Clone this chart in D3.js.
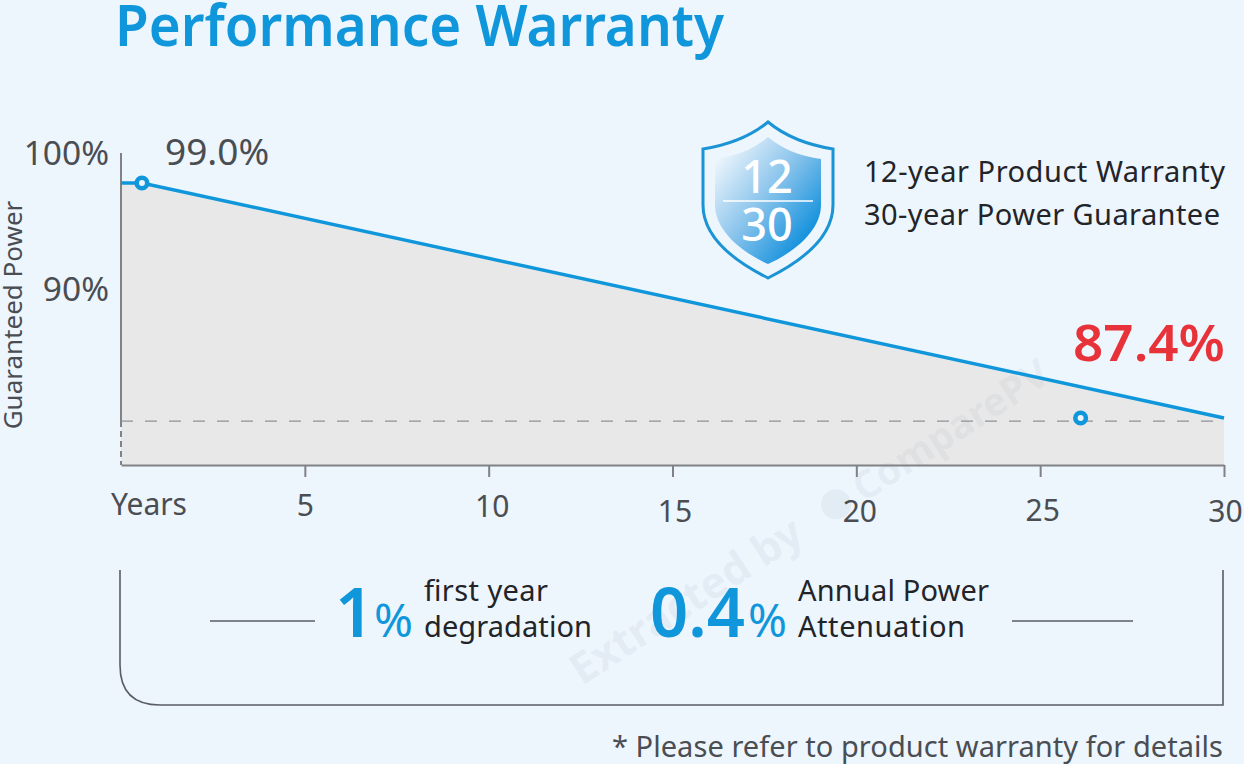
<!DOCTYPE html>
<head>
  <meta charset="utf-8">
  <script src="https://d3js.org/d3.v7.min.js"></script>
  <style>
    body { margin:0; background:#edf5fd; overflow:hidden; }
    svg { display:block; }
    text { font-family:"Noto Sans", sans-serif; }
    .axis path, .axis line { stroke:#808285; stroke-width:2; fill:none; }
    .axis text { font-family:"Noto Sans", sans-serif; font-size:30px; fill:#4a4d52; }
  </style>
</head>

<body>
  <script>
    // values
    var lineYears = [0, 0.57, 30];
    var linePower = [99, 99, 87.4];
    var markerYears = [0.57, 26.1];
    var markerPower = [99, 87.4];
    var floorPower = 85.08;
    var refPower = 87.25;
    var yearTicks = [5, 10, 15, 20, 25, 30];
    var powerLabels = ["100%", "90%"];
    var powerLabelValues = [100, 90];

    var w = 1244;
    var h = 764;
    var blue = "#0f96db";
    var greyText = "#4a4d52";
    var darkText = "#222428";

    var lineData = lineYears.map(function(d, i) { return [d, linePower[i]]; });
    var markers = markerYears.map(function(d, i) { return [d, markerPower[i]]; });

    var x = d3.scaleLinear().domain([0, 30]).range([121, 1224]);
    // the original is schematic: the line and the printed percent labels do not share one scale
    var y = d3.scaleLinear().domain([99, 87.4]).range([183, 418]);
    var yLabel = d3.scaleLinear().domain([100, 90]).range([153, 289]);

    var svg = d3.select("body").append("svg").attr("width", w).attr("height", h);
    var defs = svg.append("defs");
    var grad = defs.append("linearGradient").attr("id", "shieldFill")
      .attr("x1", "0.05").attr("y1", "0.1").attr("x2", "0.85").attr("y2", "0.85");
    grad.append("stop").attr("offset", "0").attr("stop-color", "#f2f8fd");
    grad.append("stop").attr("offset", "0.5").attr("stop-color", "#8cc5ec");
    grad.append("stop").attr("offset", "1").attr("stop-color", "#0f8fdc");

    // title
    svg.append("text").attr("x", 115).attr("y", 46)
      .attr("font-size", 57).attr("font-weight", 600).attr("fill", blue)
      .attr("textLength", 609).attr("lengthAdjust", "spacingAndGlyphs")
      .text("Performance Warranty");

    // grey area under the line
    var area = d3.area()
      .x(function(d) { return x(d[0]); })
      .y0(y(floorPower))
      .y1(function(d) { return y(d[1]); });
    svg.append("path").datum(lineData).attr("d", area).attr("fill", "#e8e8e9");

    // faint source stamp across the chart
    var stamp = svg.append("g").attr("transform", "translate(582,686) rotate(-33)")
      .attr("fill", "#8a9aa8").attr("fill-opacity", 0.1);
    stamp.append("text").attr("font-size", 43).attr("font-weight", 700).text("Extracted by");
    stamp.append("circle").attr("cx", 312).attr("cy", -14).attr("r", 15);
    stamp.append("text").attr("x", 336).attr("font-size", 39).attr("font-weight", 700).text("ComparePV");

    // y axis: solid from the top, dashed under the reference line
    svg.append("line").attr("x1", 121).attr("x2", 121).attr("y1", 153).attr("y2", y(refPower))
      .attr("stroke", "#808285").attr("stroke-width", 2);
    svg.append("line").attr("x1", 121).attr("x2", 121).attr("y1", y(refPower)).attr("y2", y(floorPower))
      .attr("stroke", "#808285").attr("stroke-width", 2).attr("stroke-dasharray", "6 4");

    // dashed reference
    svg.append("line").attr("x1", x(0)).attr("x2", x(30)).attr("y1", y(refPower)).attr("y2", y(refPower))
      .attr("stroke", "#8f9194").attr("stroke-width", 1.2).attr("stroke-dasharray", "12 12");

    // x axis
    var xAxis = d3.axisBottom(x).tickValues(yearTicks).tickSize(12).tickSizeOuter(0).tickPadding(14);
    var xg = svg.append("g").attr("class", "axis")
      .attr("transform", "translate(0," + y(floorPower) + ")")
      .call(xAxis);
    var labelNudge = [[0, 4], [3, 5], [2, 10], [3, 10], [2, 9], [1, 10]];
    xg.selectAll(".tick text").attr("transform", function(d, i) {
      return "translate(" + labelNudge[i][0] + "," + labelNudge[i][1] + ")";
    });
    svg.append("text").attr("x", 149).attr("y", 515).attr("text-anchor", "middle")
      .attr("font-size", 30).attr("fill", greyText).text("Years");

    // y labels
    svg.selectAll(".plabel").data(powerLabels).enter().append("text")
      .attr("class", "plabel")
      .attr("x", 109).attr("text-anchor", "end")
      .attr("y", function(d, i) { return yLabel(powerLabelValues[i]) + 12; })
      .attr("font-size", 33.5).attr("fill", greyText)
      .text(function(d) { return d; });
    svg.append("text").attr("transform", "translate(22,315) rotate(-90)")
      .attr("text-anchor", "middle").attr("font-size", 26).attr("fill", greyText)
      .text("Guaranteed Power");

    // line and markers
    var line = d3.line()
      .x(function(d) { return x(d[0]); })
      .y(function(d) { return y(d[1]); });
    svg.append("path").datum(lineData).attr("d", line)
      .attr("fill", "none").attr("stroke", blue).attr("stroke-width", 3.4);
    svg.selectAll(".marker").data(markers).enter().append("circle")
      .attr("class", "marker")
      .attr("cx", function(d) { return x(d[0]); })
      .attr("cy", function(d) { return y(d[1]); })
      .attr("r", 5.3)
      .attr("fill", "#edf5fd").attr("stroke", blue).attr("stroke-width", 4.6);

    // value labels
    svg.append("text").attr("x", 165).attr("y", 165)
      .attr("font-size", 37).attr("fill", greyText).text("99.0%");
    svg.append("text").attr("x", 1225).attr("y", 361).attr("text-anchor", "end")
      .attr("font-size", 51).attr("font-weight", 600).attr("fill", "#e8323a")
      .attr("textLength", 152).attr("lengthAdjust", "spacingAndGlyphs").text("87.4%");

    // shield
    svg.append("path")
      .attr("d", "M768,122 C785,136 808,145 833,149 L833,205 C833,238 800,262 768,278 C736,262 703,238 703,205 L703,149 C728,145 751,136 768,122 Z")
      .attr("fill", "#edf5fd").attr("stroke", "#1b94d6").attr("stroke-width", 3);
    svg.append("path")
      .attr("d", "M768,137 C782,149 800,156 821,159 L821,205 C821,230 795,252 768,264 C741,252 715,230 715,205 L715,159 C736,156 754,149 768,137 Z")
      .attr("fill", "url(#shieldFill)");
    svg.append("line").attr("x1", 723).attr("x2", 813).attr("y1", 201).attr("y2", 201)
      .attr("stroke", "#fff").attr("stroke-width", 1.5);
    svg.append("text").attr("x", 767).attr("y", 193).attr("text-anchor", "middle")
      .attr("font-size", 45).attr("font-weight", 500).attr("fill", "#fff").text("12");
    svg.append("text").attr("x", 767).attr("y", 241).attr("text-anchor", "middle")
      .attr("font-size", 45).attr("font-weight", 500).attr("fill", "#fff").text("30");

    svg.append("text").attr("x", 864).attr("y", 182).attr("font-size", 29).attr("fill", darkText)
      .attr("textLength", 361).text("12-year Product  Warranty");
    svg.append("text").attr("x", 864).attr("y", 225).attr("font-size", 29).attr("fill", darkText)
      .attr("textLength", 356).text("30-year Power Guarantee");

    // bracket under the axis
    svg.append("path")
      .attr("d", "M120,570 L120,665 Q120,705 160,705 L1223,705 L1223,570")
      .attr("fill", "none").attr("stroke", "#5a5e63").attr("stroke-width", 1.6);
    svg.append("line").attr("x1", 210).attr("x2", 315).attr("y1", 621).attr("y2", 621)
      .attr("stroke", "#5a5e63").attr("stroke-width", 1.6);
    svg.append("line").attr("x1", 1012).attr("x2", 1133).attr("y1", 621).attr("y2", 621)
      .attr("stroke", "#5a5e63").attr("stroke-width", 1.6);

    // degradation numbers
    svg.append("text").attr("x", 335).attr("y", 637)
      .attr("font-size", 68).attr("font-weight", 600).attr("fill", blue).text("1");
    svg.append("text").attr("x", 374).attr("y", 637)
      .attr("font-size", 45).attr("fill", blue).attr("textLength", 39)
      .attr("lengthAdjust", "spacingAndGlyphs").text("%");
    svg.append("text").attr("x", 424).attr("y", 601).attr("font-size", 29).attr("fill", darkText)
      .attr("textLength", 124).text("first year");
    svg.append("text").attr("x", 424).attr("y", 637).attr("font-size", 29).attr("fill", darkText)
      .attr("textLength", 168).text("degradation");

    svg.append("text").attr("x", 650).attr("y", 637)
      .attr("font-size", 68).attr("font-weight", 600).attr("fill", blue)
      .attr("textLength", 95).attr("lengthAdjust", "spacingAndGlyphs").text("0.4");
    svg.append("text").attr("x", 748).attr("y", 637)
      .attr("font-size", 45).attr("fill", blue).attr("textLength", 39)
      .attr("lengthAdjust", "spacingAndGlyphs").text("%");
    svg.append("text").attr("x", 798).attr("y", 601).attr("font-size", 29).attr("fill", darkText)
      .attr("textLength", 191).text("Annual Power");
    svg.append("text").attr("x", 798).attr("y", 637).attr("font-size", 29).attr("fill", darkText)
      .attr("textLength", 167).text("Attenuation");

    svg.append("text").attr("x", 1223).attr("y", 757).attr("text-anchor", "end")
      .attr("font-size", 29).attr("fill", greyText)
      .attr("textLength", 611).text("* Please refer to product warranty for details");
  </script>
</body>
